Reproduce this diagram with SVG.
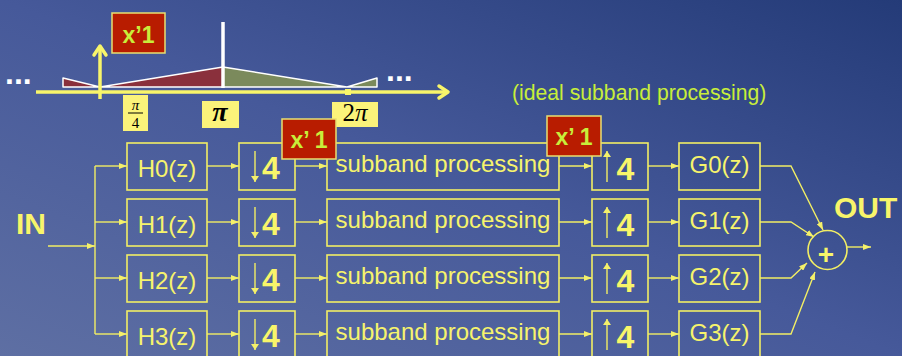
<svg xmlns="http://www.w3.org/2000/svg" width="902" height="356" viewBox="0 0 902 356">
  <defs>
    <linearGradient id="bg" x1="0" y1="1" x2="1" y2="0">
      <stop offset="0" stop-color="#5e6fa3"/>
      <stop offset="0.5" stop-color="#46599a"/>
      <stop offset="1" stop-color="#243b78"/>
    </linearGradient>
    <marker id="ah" viewBox="0 0 8 6" refX="8" refY="3" markerWidth="8" markerHeight="6" markerUnits="userSpaceOnUse" orient="auto">
      <path d="M0,0 L8,3 L0,6 Z" fill="#f4f06a"/>
    </marker>
    <marker id="ahs" viewBox="0 0 6 8" refX="6" refY="4" markerWidth="6" markerHeight="8" markerUnits="userSpaceOnUse" orient="auto">
      <path d="M0,0 L6,4 L0,8 Z" fill="#f4f06a"/>
    </marker>
  </defs>
  <style>
    .box { fill: none; stroke: #f2ee64; stroke-width: 1.6; }
    .wire { fill: none; stroke: #f2ee64; stroke-width: 1.4; }
    .lbl { font-family: "Liberation Sans", Arial, sans-serif; font-size: 24px; fill: #f6f36c; text-anchor: middle; }
    .four { font-family: "Liberation Sans", Arial, sans-serif; font-size: 32px; font-weight: bold; fill: #f8f56a; text-anchor: middle; }
    .big { font-family: "Liberation Sans", Arial, sans-serif; font-size: 30px; font-weight: bold; fill: #f8f56a; }
    .xbox { fill: #b81c00; stroke: #e8e070; stroke-width: 1.5; }
    .xtxt { font-family: "Liberation Sans", Arial, sans-serif; font-size: 23px; font-weight: bold; fill: #c8ee3a; text-anchor: middle; }
    .tag { fill: #fbf37a; }
    .math { font-family: "Liberation Serif", "Times New Roman", serif; font-style: italic; fill: #000; text-anchor: middle; }
    .dots { font-family: "Liberation Sans", Arial, sans-serif; font-size: 32px; font-weight: bold; fill: #ffffff; }
  </style>

  <rect x="0" y="0" width="902" height="356" fill="url(#bg)"/>

  <!-- spectrum sketch -->
  <g id="spectrum">
    <path d="M63,78 L100,87 L223,67 L223,87 L63,87 Z" fill="#8a303c" stroke="#ffffff" stroke-width="1.5" stroke-linejoin="round"/>
    <path d="M223,67 L347,87 L377,78 L377,87 L223,87 Z" fill="#7b8a5c" stroke="#ffffff" stroke-width="1.5" stroke-linejoin="round"/>
    <line x1="223" y1="22" x2="223" y2="88" stroke="#ffffff" stroke-width="3.5"/>
    <!-- frequency axis -->
    <line x1="36" y1="92" x2="448" y2="92" stroke="#f8f56a" stroke-width="3.5"/>
    <path d="M439,86 L448,92 L439,98" fill="none" stroke="#f8f56a" stroke-width="3.5" stroke-linecap="round" stroke-linejoin="round"/>
    <!-- pi/4 impulse -->
    <line x1="100" y1="99" x2="100" y2="47" stroke="#f8f56a" stroke-width="3.5"/>
    <path d="M94,55 L100,46 L106,55" fill="none" stroke="#f8f56a" stroke-width="3.5" stroke-linecap="round" stroke-linejoin="round"/>
    <rect x="345" y="89" width="6" height="6" fill="#f8f56a"/>
    <text class="dots" x="5" y="84">...</text>
    <text class="dots" x="386" y="81">...</text>
    <!-- tick labels -->
    <rect class="tag" x="123" y="95" width="25" height="36"/>
    <text class="math" x="135.5" y="110" font-size="15">π</text>
    <line x1="128" y1="113" x2="143" y2="113" stroke="#000" stroke-width="1"/>
    <text x="135.5" y="128" font-family="Liberation Serif, serif" font-size="15" fill="#000" text-anchor="middle">4</text>
    <rect class="tag" x="202" y="101" width="37" height="27"/>
    <text class="math" x="220" y="121" font-size="28" font-weight="bold">π</text>
    <rect class="tag" x="332" y="102" width="46" height="25"/>
    <text x="355" y="121" font-family="Liberation Serif, serif" font-size="25" fill="#000" text-anchor="middle">2<tspan font-style="italic">π</tspan></text>
  </g>

  <g id="gain-top">
    <rect class="xbox" x="112" y="13" width="53" height="40"/>
    <text class="xtxt" x="138.5" y="43">x’1</text>
  </g>

  <text x="512" y="100" font-family="Liberation Sans, Arial, sans-serif" font-size="21.2" fill="#c8ee3a">(ideal subband processing)</text>

  <!-- input / output labels -->
  <text class="big" x="16" y="234">IN</text>
  <text class="big" x="834" y="218">OUT</text>

  <!-- analysis filters -->
  <g id="H0"><rect class="box" x="127" y="143" width="80" height="47"/><text class="lbl" x="167" y="177">H0(z)</text></g>
  <g id="H1"><rect class="box" x="127" y="199" width="80" height="47"/><text class="lbl" x="167" y="233">H1(z)</text></g>
  <g id="H2"><rect class="box" x="127" y="255" width="80" height="47"/><text class="lbl" x="167" y="289">H2(z)</text></g>
  <g id="H3"><rect class="box" x="127" y="311" width="80" height="47"/><text class="lbl" x="167" y="345">H3(z)</text></g>

  <!-- decimators -->
  <g id="D0"><rect class="box" x="239" y="143" width="56" height="47"/><line class="wire" x1="255" y1="151" x2="255" y2="182" marker-end="url(#ahs)"/><text class="four" x="271" y="179">4</text></g>
  <g id="D1"><rect class="box" x="239" y="199" width="56" height="47"/><line class="wire" x1="255" y1="207" x2="255" y2="238" marker-end="url(#ahs)"/><text class="four" x="271" y="235">4</text></g>
  <g id="D2"><rect class="box" x="239" y="255" width="56" height="47"/><line class="wire" x1="255" y1="263" x2="255" y2="294" marker-end="url(#ahs)"/><text class="four" x="271" y="291">4</text></g>
  <g id="D3"><rect class="box" x="239" y="311" width="56" height="47"/><line class="wire" x1="255" y1="319" x2="255" y2="350" marker-end="url(#ahs)"/><text class="four" x="271" y="347">4</text></g>

  <!-- subband processing -->
  <g id="P0"><rect class="box" x="327" y="143" width="232" height="47"/><text class="lbl" x="443" y="172">subband processing</text></g>
  <g id="P1"><rect class="box" x="327" y="199" width="232" height="47"/><text class="lbl" x="443" y="228">subband processing</text></g>
  <g id="P2"><rect class="box" x="327" y="255" width="232" height="47"/><text class="lbl" x="443" y="284">subband processing</text></g>
  <g id="P3"><rect class="box" x="327" y="311" width="232" height="47"/><text class="lbl" x="443" y="340">subband processing</text></g>

  <!-- expanders -->
  <g id="U0"><rect class="box" x="592" y="143" width="56" height="47"/><line class="wire" x1="607" y1="182" x2="607" y2="151" marker-end="url(#ahs)"/><text class="four" x="625.5" y="180">4</text></g>
  <g id="U1"><rect class="box" x="592" y="199" width="56" height="47"/><line class="wire" x1="607" y1="238" x2="607" y2="207" marker-end="url(#ahs)"/><text class="four" x="625.5" y="236">4</text></g>
  <g id="U2"><rect class="box" x="592" y="255" width="56" height="47"/><line class="wire" x1="607" y1="294" x2="607" y2="263" marker-end="url(#ahs)"/><text class="four" x="625.5" y="292">4</text></g>
  <g id="U3"><rect class="box" x="592" y="311" width="56" height="47"/><line class="wire" x1="607" y1="350" x2="607" y2="319" marker-end="url(#ahs)"/><text class="four" x="625.5" y="348">4</text></g>

  <!-- synthesis filters -->
  <g id="G0"><rect class="box" x="679" y="143" width="81" height="47"/><text class="lbl" x="719.5" y="173">G0(z)</text></g>
  <g id="G1"><rect class="box" x="679" y="199" width="81" height="47"/><text class="lbl" x="719.5" y="229">G1(z)</text></g>
  <g id="G2"><rect class="box" x="679" y="255" width="81" height="47"/><text class="lbl" x="719.5" y="285">G2(z)</text></g>
  <g id="G3"><rect class="box" x="679" y="311" width="81" height="47"/><text class="lbl" x="719.5" y="341">G3(z)</text></g>

  <!-- summing node -->
  <g id="sum">
    <circle cx="827.5" cy="250" r="19.5" class="box"/>
    <text x="826" y="264" font-family="Liberation Sans, Arial, sans-serif" font-size="28" font-weight="bold" fill="#f8f56a" text-anchor="middle">+</text>
  </g>

  <!-- gain markers -->
  <g id="gain-down">
    <rect class="xbox" x="282" y="119" width="54" height="40"/>
    <text class="xtxt" x="309" y="148">x’ 1</text>
  </g>
  <g id="gain-up">
    <rect class="xbox" x="547" y="116" width="54" height="40"/>
    <text class="xtxt" x="574" y="145">x’ 1</text>
  </g>

  <!-- connectors -->
  <g id="connectors">
    <line class="wire" x1="48" y1="246" x2="95" y2="246" marker-end="url(#ah)"/>
    <line class="wire" x1="95" y1="166" x2="95" y2="334"/>
    <line class="wire" x1="95" y1="166" x2="127" y2="166" marker-end="url(#ah)"/>
    <line class="wire" x1="95" y1="222" x2="127" y2="222" marker-end="url(#ah)"/>
    <line class="wire" x1="95" y1="278" x2="127" y2="278" marker-end="url(#ah)"/>
    <line class="wire" x1="95" y1="334" x2="127" y2="334" marker-end="url(#ah)"/>

    <line class="wire" x1="207" y1="166" x2="239" y2="166" marker-end="url(#ah)"/>
    <line class="wire" x1="207" y1="222" x2="239" y2="222" marker-end="url(#ah)"/>
    <line class="wire" x1="207" y1="278" x2="239" y2="278" marker-end="url(#ah)"/>
    <line class="wire" x1="207" y1="334" x2="239" y2="334" marker-end="url(#ah)"/>

    <line class="wire" x1="295" y1="166" x2="327" y2="166" marker-end="url(#ah)"/>
    <line class="wire" x1="295" y1="222" x2="327" y2="222" marker-end="url(#ah)"/>
    <line class="wire" x1="295" y1="278" x2="327" y2="278" marker-end="url(#ah)"/>
    <line class="wire" x1="295" y1="334" x2="327" y2="334" marker-end="url(#ah)"/>

    <line class="wire" x1="559" y1="166" x2="592" y2="166" marker-end="url(#ah)"/>
    <line class="wire" x1="559" y1="222" x2="592" y2="222" marker-end="url(#ah)"/>
    <line class="wire" x1="559" y1="278" x2="592" y2="278" marker-end="url(#ah)"/>
    <line class="wire" x1="559" y1="334" x2="592" y2="334" marker-end="url(#ah)"/>

    <line class="wire" x1="648" y1="166" x2="679" y2="166" marker-end="url(#ah)"/>
    <line class="wire" x1="648" y1="222" x2="679" y2="222" marker-end="url(#ah)"/>
    <line class="wire" x1="648" y1="278" x2="679" y2="278" marker-end="url(#ah)"/>
    <line class="wire" x1="648" y1="334" x2="679" y2="334" marker-end="url(#ah)"/>

    <polyline class="wire" points="760,166 791,166 823,230" marker-end="url(#ah)"/>
    <polyline class="wire" points="760,222 791,222 814,237" marker-end="url(#ah)"/>
    <polyline class="wire" points="760,278 791,278 807,263" marker-end="url(#ah)"/>
    <polyline class="wire" points="760,334 791,334 815,272" marker-end="url(#ah)"/>

    <line class="wire" x1="847" y1="247" x2="871" y2="247" marker-end="url(#ah)"/>
  </g>
</svg>
